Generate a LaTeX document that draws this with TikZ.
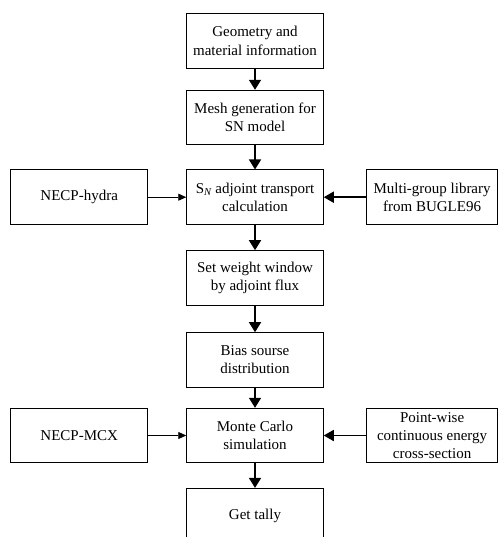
\documentclass[tikz,border=0pt]{standalone}
\usepackage{fontspec}
\setmainfont{Liberation Serif}
\usetikzlibrary{arrows.meta}
\begin{document}
\begin{tikzpicture}[x=1pt,y=-1pt,
  box/.style={draw, line width=0.9pt, align=center, inner sep=2pt,
    font=\fontsize{15}{18.3}\selectfont, minimum height=54.5pt},
  mainbox/.style={box, minimum width=136.6pt},
  leftbox/.style={box, minimum width=137pt},
  rightbox/.style={box, minimum width=130.8pt},
  varrow/.style={line width=1.6pt, -{Triangle[length=10pt,width=12pt]}},
  thinarrow/.style={line width=0.9pt, -{Triangle[length=8pt,width=7pt]}},
  thickarrow/.style={line width=1.6pt, -{Triangle[length=10pt,width=11pt]}}
]
\useasboundingbox (0,0) rectangle (499,537);
\node[mainbox] (b1) at (255,40.8) {Geometry and\\material information};
\node[mainbox] (b2) at (255,117.5) {Mesh generation for\\SN model};
\node[mainbox] (b3) at (255,197.2) {S\textsubscript{\itshape N} adjoint transport\\calculation};
\node[mainbox] (b4) at (255,277.9) {Set weight window\\by adjoint flux};
\node[mainbox] (b5) at (255,359.9) {Bias sourse\\distribution};
\node[mainbox] (b6) at (255,435.5) {Monte Carlo\\simulation};
\node[mainbox] (b7) at (255,515.6) {Get tally};
\node[leftbox] (l1) at (79.2,197.2) {NECP-hydra};
\node[leftbox] (l2) at (79.2,435.5) {NECP-MCX};
\node[rightbox] (r1) at (432.1,197.2) {Multi-group library\\from BUGLE96};
\node[rightbox] (r2) at (432.1,435.5) {Point-wise\\continuous energy\\cross-section};
\draw[varrow] (b1) -- (b2);
\draw[varrow] (b2) -- (b3);
\draw[varrow] (b3) -- (b4);
\draw[varrow] (b4) -- (b5);
\draw[varrow] (b5) -- (b6);
\draw[varrow] (b6) -- (b7);
\draw[thinarrow] (l1) -- (b3);
\draw[thinarrow] (l2) -- (b6);
\draw[thickarrow] (r1) -- (b3);
\draw[thickarrow] (r2) -- (b6);
\end{tikzpicture}
\end{document}
